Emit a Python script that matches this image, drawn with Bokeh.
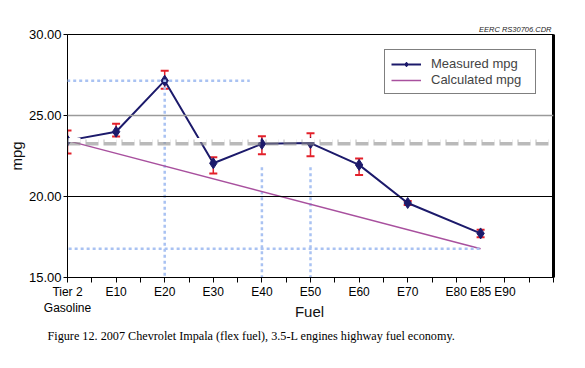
from bokeh.plotting import figure
from bokeh.models import (ColumnDataSource, Whisker, TeeHead, Span, Legend, Title, Label,
                          LegendItem, FixedTicker, NumeralTickFormatter, LinearAxis,
                          Arrow, Range1d)
from bokeh.embed import file_html
from bokeh.resources import INLINE

# ---- data ----
fuels = [0, 10, 20, 30, 40, 50, 60, 70, 85]
measured = [23.45, 24.0, 27.15, 22.05, 23.25, 23.3, 21.95, 19.6, 17.72]
err_upper = [24.08, 24.49, 27.76, 22.43, 23.72, 23.91, 22.35, 19.72, 17.95]
err_lower = [22.66, 23.70, 26.65, 21.42, 22.61, 22.49, 21.32, 19.48, 17.49]
calc_fuels = [0, 85]
calculated = [23.45, 16.77]
x_ticks = [0, 5, 10, 15, 20, 25, 30, 35, 40, 45, 50, 55, 60, 65, 70, 75, 80, 85, 90, 95, 100]
x_tick_labels = ["Tier 2\nGasoline", "", "E10", "", "E20", "", "E30", "", "E40", "", "E50",
                 "", "E60", "", "E70", "", "E80", "E85", "E90", "", ""]
y_ticks = [15, 20, 25, 30]
guide_x = [20, 40, 50]          # vertical dotted guides
guide_top = [27.15, 21.8, 21.8]  # where they start

FONT = "Liberation Sans"
NAVY = "#1c1a6b"
PURPLE = "#a8509e"
RED = "#e3202a"
BLUE = "#a9c2f2"

p = figure(width=585, height=368, x_range=Range1d(0, 100), y_range=Range1d(15, 30),
           output_backend="svg", toolbar_location=None,
           min_border_left=67, min_border_right=32, min_border_top=34, min_border_bottom=91,
           background_fill_color="white", border_fill_color="white")
p.grid.visible = False
p.outline_line_color = "black"
p.outline_line_width = 1

# axes
xa = p.xaxis[0]
xa.ticker = FixedTicker(ticks=x_ticks)
xa.major_label_overrides = {t: l for t, l in zip(x_ticks, x_tick_labels)}
xa.minor_tick_line_color = None
xa.major_tick_in = 0
xa.major_tick_out = 5
xa.axis_line_color = "black"
xa.major_tick_line_color = "black"
xa.major_label_text_font = FONT
xa.major_label_text_font_size = "12px"
xa.major_label_text_color = "black"
xa.major_label_standoff = 2

ya = p.yaxis[0]
ya.ticker = FixedTicker(ticks=y_ticks)
ya.formatter = NumeralTickFormatter(format="0.00")
ya.minor_tick_line_color = None
ya.major_tick_in = 0
ya.major_tick_out = 4
ya.axis_line_color = "black"
ya.major_label_text_font = FONT
ya.major_label_text_font_size = "13px"
ya.major_label_text_color = "black"
ya.major_label_standoff = 2
ya.axis_label = "mpg"
ya.axis_label_text_font = FONT
ya.axis_label_text_font_style = "normal"
ya.axis_label_text_font_size = "15px"
ya.axis_label_text_color = "#111"
ya.axis_label_standoff = 1

ra = LinearAxis(ticker=FixedTicker(ticks=[]), axis_line_width=3, axis_line_color="black",
                major_label_text_font_size="0px", minor_tick_line_color=None)
p.add_layout(ra, "right")

# grid lines
p.add_layout(Span(location=y_ticks[2], dimension="width", line_color="#9a9a9a", line_width=1.5))
p.add_layout(Span(location=y_ticks[1], dimension="width", line_color="black", line_width=1.2))

# dotted guide lines
peak = max(measured)
p.add_layout(Arrow(end=None, x_start=-5, y_start=peak, x_end=37.5, y_end=peak,
                   line_color=BLUE, line_width=2.5, line_dash="3 3"))
p.add_layout(Arrow(end=None, x_start=-1, y_start=calculated[-1], x_end=calc_fuels[-1], y_end=calculated[-1],
                   line_color=BLUE, line_width=2.5, line_dash="3 3"))
for gx, gt in zip(guide_x, guide_top):
    p.segment(x0=gx, y0=gt, x1=gx, y1=15, line_color=BLUE, line_width=2.5, line_dash="3 3")

# thick dashed base line (white dashes with grey shadow)
p.add_layout(Span(location=measured[0] - 0.12, dimension="width", line_color="#8c8c8c", line_alpha=0.6,
                  line_width=6, line_dash="13 5"))
p.add_layout(Span(location=measured[0] + 0.04, dimension="width", line_color="white",
                  line_width=4, line_dash="12 6", line_dash_offset=-1))

# calculated
calc_r = p.line(calc_fuels, calculated, line_color=PURPLE, line_width=1.5)

# measured
src = ColumnDataSource(dict(x=fuels, y=measured, up=err_upper, lo=err_lower))
meas_line = p.line("x", "y", source=src, line_color=NAVY, line_width=2)
p.add_layout(Whisker(base="x", upper="up", lower="lo", source=src, dimension="height",
                     line_color=RED, line_width=1.5,
                     upper_head=TeeHead(size=8, line_color=RED, line_width=2),
                     lower_head=TeeHead(size=8, line_color=RED, line_width=2)))
meas_pts = p.scatter("x", "y", source=src, marker="diamond", size=11,
                     fill_color=NAVY, line_color=NAVY)

# legend
legend = Legend(items=[LegendItem(label="Measured mpg", renderers=[meas_line, meas_pts]),
                       LegendItem(label="Calculated mpg", renderers=[calc_r])],
                location=(317, 183), border_line_color="black", border_line_width=1.5,
                label_text_font=FONT, label_text_font_size="13px",
                padding=6, spacing=1, margin=0, glyph_width=30, glyph_height=12,
                label_height=12, label_width=98, label_standoff=10, background_fill_alpha=1)
p.add_layout(legend, "center")

# x axis title, placed in the bottom panel
p.add_layout(Label(x=242, y=24, x_units="screen", y_units="screen", text="Fuel",
                   text_align="center", text_baseline="middle",
                   text_font=FONT, text_font_size="15px", text_color="#111"), "below")

# caption, also in the bottom panel
p.add_layout(Label(x=-20, y=14, x_units="screen", y_units="screen",
                   text="Figure 12. 2007 Chevrolet Impala (flex fuel), 3.5-L engines highway fuel economy.",
                   text_align="left", text_baseline="middle", text_font="Liberation Serif",
                   text_font_size="12.2px", text_color="black"), "below")

# extra text
p.add_layout(Title(text="EERC RS30706.CDR", align="right", text_font=FONT,
                   text_font_size="7.5px", text_font_style="italic", text_color="#222",
                   standoff=1, offset=2), "above")

open("out.html", "w").write(file_html(p, INLINE))
